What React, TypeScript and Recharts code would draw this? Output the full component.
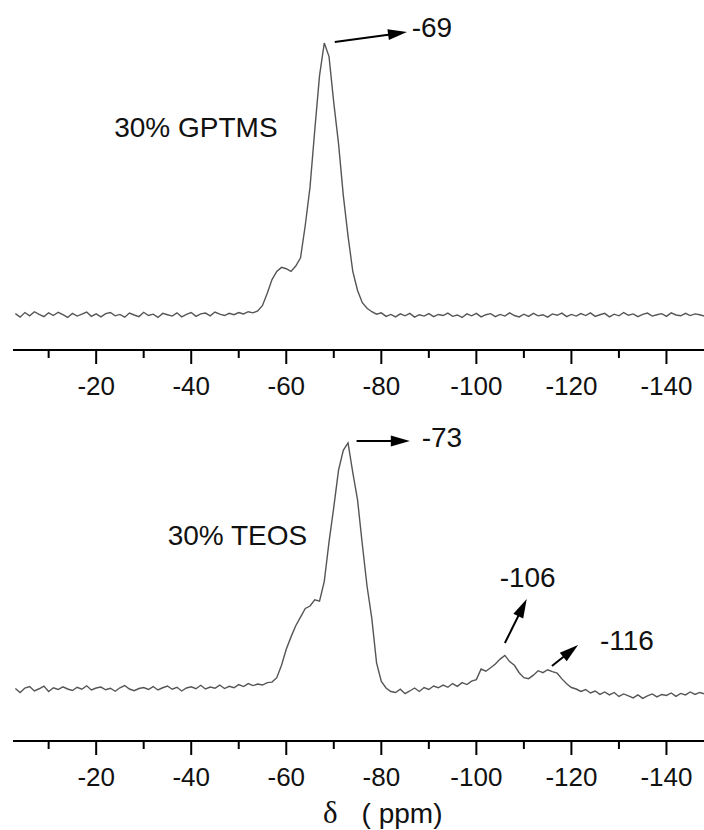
import { LineChart, Line, XAxis, YAxis, ReferenceLine, ReferenceDot } from "recharts";

// chemical shift grid, ppm
const shifts = [
  -3, -4, -5, -6, -7, -8, -9, -10, -11, -12,
  -13, -14, -15, -16, -17, -18, -19, -20, -21, -22,
  -23, -24, -25, -26, -27, -28, -29, -30, -31, -32,
  -33, -34, -35, -36, -37, -38, -39, -40, -41, -42,
  -43, -44, -45, -46, -47, -48, -49, -50, -51, -52,
  -53, -54, -55, -56, -57, -58, -59, -60, -61, -62,
  -63, -64, -65, -66, -67, -68, -69, -70, -71, -72,
  -73, -74, -75, -76, -77, -78, -79, -80, -81, -82,
  -83, -84, -85, -86, -87, -88, -89, -90, -91, -92,
  -93, -94, -95, -96, -97, -98, -99, -100, -101, -102,
  -103, -104, -105, -106, -107, -108, -109, -110, -111, -112,
  -113, -114, -115, -116, -117, -118, -119, -120, -121, -122,
  -123, -124, -125, -126, -127, -128, -129, -130, -131, -132,
  -133, -134, -135, -136, -137, -138, -139, -140, -141, -142,
  -143, -144, -145, -146, -147, -148,
];

// 30% GPTMS intensity (peak = 100)
const gptms = [
  0.5, -0.8, 0.9, -0.3, 1.2, 0.2, -0.6, 0.8, -0.2, 1.0,
  0.1, -0.9, 0.6, -0.4, 0.3, 1.1, -0.5, 0.4, -0.7, 0.5,
  0.9, -0.3, 0.2, -0.8, 0.7, 0.0, -0.6, 1.0, -0.2, 0.3,
  -0.9, 0.6, 0.1, -0.4, 0.8, -0.7, 0.2, 0.9, -0.5, 0.4,
  0.7, -0.3, 1.1, 0.3, -0.2, 0.6, 0.1, 0.9, 0.4, 1.2,
  0.8, 1.5, 3.5, 8, 13, 16, 17.5, 17, 16, 18,
  21, 33, 47, 68, 88, 100, 95, 78, 63, 44,
  29, 16, 9, 4.5, 2.5, 1.2, 0.3, 0.8, -0.5, 0.2,
  -0.7, 0.4, -0.3, 0.6, -0.8, 0.1, -0.4, 0.5, -0.6, 0.2,
  -0.2, 0.7, -0.5, 0.0, -0.9, 0.4, -0.3, 0.6, -0.7, 0.1,
  0.5, -0.6, 0.2, -0.4, 0.8, -0.2, -0.7, 0.3, -0.5, 0.6,
  -0.3, 0.1, -0.8, 0.4, -0.1, 0.7, -0.6, 0.2, -0.4, 0.5,
  -0.2, 0.8, -0.5, 0.1, 0.6, -0.7, 0.3, -0.3, 0.9, -0.1,
  0.4, -0.6, 0.2, 0.7, -0.4, 0.1, 0.5, -0.5, 0.8, 0.0,
  -0.3, 0.6, -0.2, 0.4, 0.1, -0.4,
];

// 30% TEOS intensity (peak = 100)
const teos = [
  0.6, -1.0, 0.8, 1.4, -0.4, 0.5, 1.6, -0.6, 0.9, 0.2,
  1.3, 0.4, -0.2, 1.1, 0.3, 1.7, 0.0, 0.8, 1.2, 0.1,
  0.7, -0.5, 0.9, 1.8, 0.4, -0.3, 0.6, 1.0, 0.2, 1.4,
  0.0, 0.9, 1.6, 0.3, 1.1, -0.4, 0.8, 1.3, 0.5, 1.9,
  0.4, 1.2, 0.7, 2.0, 0.6, 1.5, 0.9, 2.2, 1.4, 2.6,
  1.8, 2.4, 2.0, 3.0, 3.2, 5, 10, 16.5, 21.5, 26,
  29.5, 33, 34, 36.5, 36, 44, 60, 74, 89, 97,
  100, 88, 77, 59, 42, 29, 11, 3.5, 0.8, -0.6,
  -1.0, 0.3, -1.5, -0.4, 0.8, -0.6, 1.0, 0.2, 1.6, 0.9,
  2.0, 1.1, 2.6, 1.5, 3.0, 2.2, 3.6, 4.2, 8.5, 7.6,
  9.0, 10.5, 12.5, 14.0, 11.5, 10.0, 7.0, 5.0, 4.6, 6.0,
  7.8, 7.0, 8.2, 7.4, 6.8, 4.5, 2.5, 1.0, 0.4, -0.6,
  0.2, -1.2, -0.4, -1.8, -0.8, -2.0, -1.0, -2.6, -1.6, -2.4,
  -3.2, -2.0, -3.4, -2.4, -1.6, -2.8, -1.8, -2.2, -1.2, -2.6,
  -1.4, -2.0, -0.8, -1.8, -1.0, -1.6,
];

const majorTicks = [-20, -40, -60, -80, -100, -120, -140];
const minorTicks = [-10, -30, -50, -70, -90, -110, -130];

const gptmsData = shifts.map((ppm, i) => ({ ppm, v: gptms[i] }));
const teosData = shifts.map((ppm, i) => ({ ppm, v: teos[i] }));

const SANS = '"Liberation Sans", Arial, Helvetica, sans-serif';
const X_DOMAIN = [-147.9, -2.5];

function ShiftTick(props: any) {
  const { x, y, payload } = props;
  const major = majorTicks.includes(payload.value);
  return (
    <g>
      <line x1={x} y1={y} x2={x} y2={y + (major ? 14 : 8)} stroke="#000" strokeWidth={2} />
      {major && (
        <text x={x} y={y + 45} textAnchor="middle" fontFamily={SANS} fontSize={26} fill="#111">
          {payload.value}
        </text>
      )}
    </g>
  );
}

function Arrow(props: any) {
  const { x1, y1, x2, y2 } = props;
  const dx = x2 - x1;
  const dy = y2 - y1;
  const len = Math.hypot(dx, dy) || 1;
  const ux = dx / len;
  const uy = dy / len;
  const hl = 19;
  const hw = 5.5;
  const bx = x2 - ux * hl;
  const by = y2 - uy * hl;
  return (
    <g>
      <line x1={x1} y1={y1} x2={bx + ux * 2} y2={by + uy * 2} stroke="#000" strokeWidth={2} />
      <polygon points={`${x2},${y2} ${bx - uy * hw},${by + ux * hw} ${bx + uy * hw},${by - ux * hw}`} fill="#000" />
    </g>
  );
}

const note = (text: string) => (p: any) => (
  <text x={p.cx} y={p.cy} fontFamily={SANS} fontSize={28} fill="#111">
    {text}
  </text>
);

function DeltaLabel(props: any) {
  const vb = props.viewBox || { x: 13, y: 350 };
  return (
    <text x={vb.x + 310} y={vb.y + 82} fontFamily={SANS} fontSize={28} fill="#111">
      <tspan fontFamily='"Liberation Serif", "Times New Roman", serif' fontSize={31}>δ</tspan>
      <tspan dx={24}>( ppm)</tspan>
    </text>
  );
}

export default function App() {
  return (
    <div style={{ position: "absolute", left: 0, top: 0, width: 704, height: 830, background: "#fff" }}>
      <div style={{ position: "absolute", left: 0, top: 0 }}>
        <LineChart width={704} height={402} data={gptmsData} margin={{ top: 10, right: 0, bottom: 12, left: 13 }}>
          <XAxis
            dataKey="ppm"
            type="number"
            domain={X_DOMAIN}
            reversed
            allowDataOverflow
            ticks={[...minorTicks, ...majorTicks]}
            interval={0}
            height={40}
            tickLine={false}
            tickSize={0}
            tickMargin={0}
            axisLine={{ stroke: "#000", strokeWidth: 2 }}
            tick={<ShiftTick />}
          />
          <YAxis type="number" domain={[-12.87, 112.13]} allowDataOverflow hide />
          <Line dataKey="v" type="linear" stroke="#555" strokeWidth={1.4} dot={false} isAnimationActive={false} />
          <ReferenceLine segment={[{ x: -70.2, y: 100.4 }, { x: -85.4, y: 104.0 }]} shape={<Arrow />} />
          <ReferenceDot x={-23.8} y={65.4} r={0} shape={note("30% GPTMS")} />
          <ReferenceDot x={-86.4} y={102.2} r={0} shape={note("-69")} />
        </LineChart>
      </div>
      <div style={{ position: "absolute", left: 0, top: 391 }}>
        <LineChart width={704} height={439} data={teosData} margin={{ top: 10, right: 0, bottom: 49, left: 13 }}>
          <XAxis
            dataKey="ppm"
            type="number"
            domain={X_DOMAIN}
            reversed
            allowDataOverflow
            ticks={[...minorTicks, ...majorTicks]}
            interval={0}
            height={40}
            tickLine={false}
            tickSize={0}
            tickMargin={0}
            axisLine={{ stroke: "#000", strokeWidth: 2 }}
            tick={<ShiftTick />}
            label={<DeltaLabel />}
          />
          <YAxis type="number" domain={[-20.65, 117.0]} allowDataOverflow hide />
          <Line dataKey="v" type="linear" stroke="#555" strokeWidth={1.4} dot={false} isAnimationActive={false} />
          <ReferenceLine segment={[{ x: -74.8, y: 100.8 }, { x: -86.0, y: 100.8 }]} shape={<Arrow />} />
          <ReferenceLine segment={[{ x: -106.0, y: 19.0 }, { x: -110.6, y: 36.8 }]} shape={<Arrow />} />
          <ReferenceLine segment={[{ x: -115.9, y: 9.7 }, { x: -121.4, y: 18.2 }]} shape={<Arrow />} />
          <ReferenceDot x={-35.05} y={58.7} r={0} shape={note("30% TEOS")} />
          <ReferenceDot x={-88.5} y={98.4} r={0} shape={note("-73")} />
          <ReferenceDot x={-104.9} y={41.7} r={0} shape={note("-106")} />
          <ReferenceDot x={-126.0} y={16.2} r={0} shape={note("-116")} />
        </LineChart>
      </div>
    </div>
  );
}
